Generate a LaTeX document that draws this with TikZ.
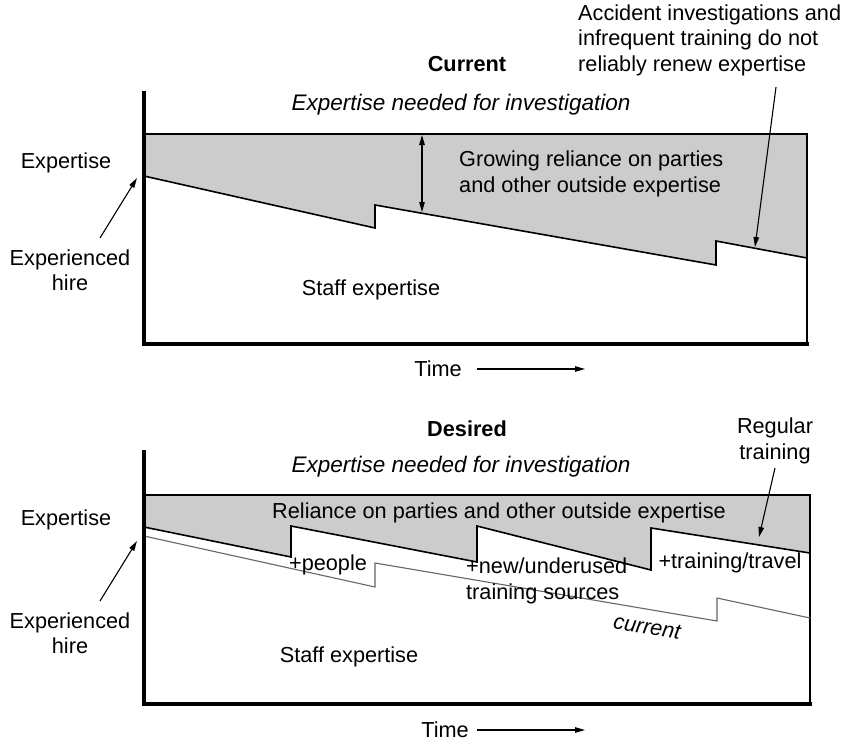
\documentclass[tikz,border=0pt]{standalone}
\usepackage{fontspec}
\setmainfont{Liberation Sans}
\usetikzlibrary{arrows.meta}

\begin{document}
\begin{tikzpicture}[x=1pt, y=-1pt]

\tikzstyle{every node} = [inner sep=2pt, font=\fontsize{21.7}{25.5}\selectfont]
\tikzstyle{needed} = [font=\fontsize{22.5}{26}\selectfont\itshape]
\tikzstyle{axis} = [line width=3.5pt]
\tikzstyle{frame} = [line width=1.2pt]
\tikzstyle{staff} = [line width=1.6pt]
\tikzstyle{oldstaff} = [line width=1.1pt, black!60]
\tikzstyle{arr} = [line width=1.1pt, -{Triangle[length=10pt,width=5.5pt]}]
\tikzstyle{shade} = [fill=black!20]

\useasboundingbox (0,0) rectangle (845,742);

% Current
\fill[shade] (144,134) -- (807,134) -- (807,258) -- (716,241) -- (716,265)
  -- (375,205) -- (375,228) -- (144,176) -- cycle;
\draw[frame] (144,134) -- (807,134) -- (807,344);
\draw[staff] (144,176) -- (375,228) -- (375,205) -- (716,265) -- (716,241) -- (807,258);
\draw[axis] (144,91) -- (144,344) -- (809,344);

\node (cur) at (467,64) {\bfseries Current};
\node[needed] (need1) at (461,105) {Expertise needed for investigation};
\node[anchor=west, align=left] (grow) at (457,174) {Growing reliance on parties\\and other outside expertise};
\node (staff1) at (371,290) {Staff expertise};
\node[anchor=west, align=left] (note) at (576,40) {Accident investigations and\\infrequent training do not\\reliably renew expertise};
\node (exp1) at (66,163) {Expertise};
\node[align=center] (hire1) at (70,270) {Experienced\\hire};
\node (time1) at (438,369) {Time};

\coordinate (h1) at (137,178);
\coordinate (h1t) at (100,238);
\coordinate (gapT) at (422,135);
\coordinate (gapB) at (422,212);
\coordinate (n1) at (776,87);
\coordinate (n1e) at (755,247);
\coordinate (t1) at (477,369);
\coordinate (t1e) at (585,369);

\draw[arr] (h1t) -- (h1);
\draw[arr, {Triangle[length=10pt,width=5.5pt]}-{Triangle[length=10pt,width=5.5pt]}] (gapT) -- (gapB);
\draw[arr] (n1) -- (n1e);
\draw[arr] (t1) -- (t1e);

% Desired
\fill[shade] (144,495) -- (810,495) -- (810,553) -- (651,528) -- (651,570)
  -- (477,526) -- (477,562) -- (291,526) -- (291,557) -- (144,527) -- cycle;
\draw[frame] (144,495) -- (810,495) -- (810,704);
\draw[oldstaff] (144,536) -- (375,587) -- (375,563) -- (717,621) -- (717,598) -- (810,618);
\draw[staff] (144,527) -- (291,557) -- (291,526) -- (477,562) -- (477,526) -- (651,570) -- (651,528) -- (810,553);
\draw[axis] (144,450) -- (144,704) -- (812,704);

\node (des) at (467,429) {\bfseries Desired};
\node[needed] (need2) at (461,467) {Expertise needed for investigation};
\node (rel) at (499,513) {Reliance on parties and other outside expertise};
\node (ppl) at (328,565) {+people};
\node[anchor=west, align=left] (src) at (464,581) {+new/underused\\training sources};
\node (trv) at (730,563) {+training/travel};
\node[rotate=-9] (old) at (647,627) {\itshape current};
\node[align=center] (reg) at (775,441) {Regular\\training};
\node (staff2) at (349,657) {Staff expertise};
\node (exp2) at (66,520) {Expertise};
\node[align=center] (hire2) at (70,633) {Experienced\\hire};
\node (time2) at (445,730) {Time};

\coordinate (h2) at (137,541);
\coordinate (h2t) at (100,601);
\coordinate (r2) at (775,468);
\coordinate (r2e) at (759,537);
\coordinate (t2) at (477,730);
\coordinate (t2e) at (585,730);

\draw[arr] (h2t) -- (h2);
\draw[arr] (r2) -- (r2e);
\draw[arr] (t2) -- (t2e);

\end{tikzpicture}
\end{document}
